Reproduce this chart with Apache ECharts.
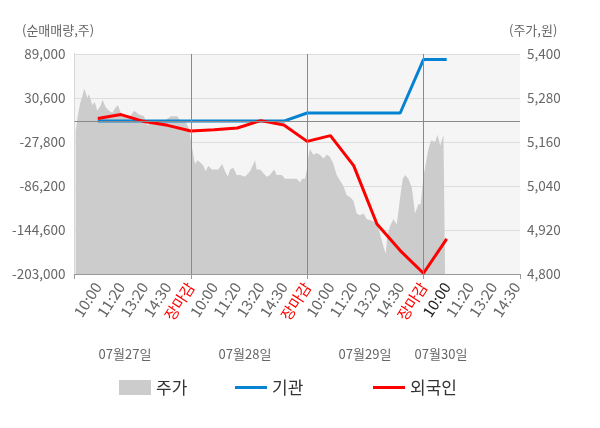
<!DOCTYPE html>
<html>
  <head>
    <meta charset="utf-8">
    <title></title>
    <style media="screen">
    html, body {margin:0; padding:0; background:#fff;}
    .box {width:600px; height:428px;}
    </style>
    <script src="https://cdn.jsdelivr.net/npm/echarts@6/dist/echarts.min.js" charset="utf-8"></script>
    <script>
    // x 단위: 슬롯 (하루 = 5칸, 장마감이 5의 배수)
    const tickLabels=['10:00','11:20','13:20','14:30','장마감',
                      '10:00','11:20','13:20','14:30','장마감',
                      '10:00','11:20','13:20','14:30','장마감',
                      '10:00','11:20','13:20','14:30'];
    const dayLabels=['07월27일','07월28일','07월29일','07월30일'];
    const lineSlots=[1,2,3,4,5,6,7,8,9,10,11,12,13,14,15,16];
    const instVals=[0,0,0,0,0,0,0,0,0,10700,10700,10700,10700,10700,81600,81600];
    const foreignVals=[3300,8600,-700,-5700,-13200,-11700,-9200,600,-5200,-27000,-19300,-59100,-136600,-171900,-202000,-156500];
    const priceTime=[0.05,0.15,0.24,0.34,0.41,0.48,0.55,0.62,0.70,0.77,0.87,0.98,1.13,1.20,1.34,1.48,1.63,1.77,1.87,1.99,
      2.13,2.34,2.56,2.77,2.99,3.13,3.28,3.49,3.71,3.92,4.14,4.28,4.42,4.57,4.78,4.93,
      5.00,5.04,5.11,5.18,5.28,5.40,5.54,5.64,5.75,5.90,6.18,6.35,6.47,6.59,6.69,6.83,6.97,7.12,7.33,7.55,7.76,7.83,7.98,
      8.12,8.26,8.40,8.58,8.69,8.91,9.05,9.34,9.55,9.69,9.79,9.91,
      10.00,10.05,10.12,10.27,10.41,10.55,10.70,10.84,10.98,11.13,11.27,11.41,11.56,11.70,11.84,11.99,12.13,12.27,12.42,
      12.56,12.78,12.99,13.13,13.28,13.38,13.45,13.56,13.71,13.85,13.99,14.11,14.21,14.35,14.50,14.64,14.78,14.88,
      15.00,15.11,15.21,15.33,15.50,15.60,15.72,15.86,15.93];
    const priceVals=[5190,5235,5265,5285,5305,5295,5280,5290,5275,5260,5270,5245,5260,5275,5255,5245,5240,5255,5260,5240,
      5230,5225,5245,5235,5230,5205,5215,5215,5220,5220,5230,5230,5230,5215,5215,5195,
      5165,5150,5125,5100,5110,5105,5095,5080,5095,5085,5085,5100,5080,5065,5085,5090,5070,5070,5065,5080,5110,5085,5085,
      5075,5065,5070,5085,5070,5070,5060,5060,5060,5050,5060,5060,
      5090,5120,5140,5125,5130,5125,5115,5125,5120,5100,5070,5055,5040,5015,5010,5000,4965,4960,4965,
      4950,4945,4940,4910,4875,4855,4905,4930,4950,4935,5005,5060,5070,5060,5035,4965,4990,4990,
      5065,5105,5140,5165,5160,5180,5150,5180,5175];

    const font='Noto Sans CJK KR';
    const fmt=v=>v.toLocaleString('en-US');

    window.onload=function (){
      let chart=echarts.init(document.querySelector('.box'));
      let legendText={fontSize: 17, color: '#333', fontFamily: font};
      let option={
        animation: false,
        textStyle: {fontFamily: font},
        grid: {left: 74.5, right: 80, top: 54, bottom: 154, show: true, backgroundColor: '#f5f5f5', borderWidth: 0},
        legend: [
          {data: ['주가'], left: 114, top: 374, icon: 'rect', itemWidth: 32, itemHeight: 15, textStyle: legendText},
          {data: ['기관'], left: 230, top: 374, icon: 'rect', itemWidth: 32, itemHeight: 3, textStyle: legendText},
          {data: ['외국인'], left: 368, top: 374, icon: 'rect', itemWidth: 32, itemHeight: 3, textStyle: legendText}
        ],
        xAxis: [
          {
            type: 'value', min: 0, max: 19.15, interval: 1,
            axisLine: {show: false},
            axisTick: {show: false},
            splitLine: {show: false},
            axisLabel: {
              rotate: 57, margin: 10, fontSize: 15, fontFamily: font,
              formatter: v=>(Number.isInteger(v) && v>0 && tickLabels[v-1]) ? tickLabels[v-1] : '',
              color: v=>{
                let s=tickLabels[v-1];
                if(s=='장마감') return '#ff0000';
                if(v==16) return '#222';
                return '#666';
              }
            }
          },
          {
            type: 'value', min: 0, max: 19.15, interval: 5, position: 'bottom',
            axisLine: {show: true, lineStyle: {color: '#999'}},
            axisTick: {show: true, length: 5, lineStyle: {color: '#999'}},
            axisLabel: {show: false},
            splitLine: {show: false}
          }
        ],
        yAxis: [
          {
            type: 'value', min: -203000, max: 89000, interval: 58400,
            axisLine: {show: true, lineStyle: {color: '#999'}},
            axisTick: {show: false},
            splitLine: {lineStyle: {color: '#dddddd'}},
            axisLabel: {fontSize: 13.5, color: '#666', margin: 9, formatter: fmt, fontFamily: font}
          },
          {
            type: 'value', min: 4800, max: 5400, interval: 120,
            axisLine: {show: true, lineStyle: {color: '#d8d8d8'}},
            axisTick: {show: false},
            splitLine: {show: false},
            axisLabel: {fontSize: 13.5, color: '#666', margin: 7, formatter: fmt, fontFamily: font}
          }
        ],
        graphic: [
          {type: 'text', left: 22, top: 24, style: {text: '(순매매량,주)', fontSize: 13, fill: '#666', fontFamily: font}},
          {type: 'text', left: 509, top: 24, style: {text: '(주가,원)', fontSize: 13, fill: '#666', fontFamily: font}},
          {type: 'text', x: 125, y: 354, style: {text: dayLabels[0], fontSize: 13, fill: '#666', align: 'center', verticalAlign: 'middle', fontFamily: font}},
          {type: 'text', x: 245, y: 354, style: {text: dayLabels[1], fontSize: 13, fill: '#666', align: 'center', verticalAlign: 'middle', fontFamily: font}},
          {type: 'text', x: 365, y: 354, style: {text: dayLabels[2], fontSize: 13, fill: '#666', align: 'center', verticalAlign: 'middle', fontFamily: font}},
          {type: 'text', x: 441, y: 354, style: {text: dayLabels[3], fontSize: 13, fill: '#666', align: 'center', verticalAlign: 'middle', fontFamily: font}}
        ],
        series: [
          {
            name: '주가', type: 'line', yAxisIndex: 1,
            data: priceTime.map((t,i)=>[t, priceVals[i]]),
            symbol: 'none', lineStyle: {width: 0},
            itemStyle: {color: '#cccccc'},
            areaStyle: {color: '#cccccc', opacity: 1, origin: 'start'}
          },
          {
            name: '기관', type: 'line',
            data: lineSlots.map((s,i)=>[s, instVals[i]]),
            symbol: 'none', lineStyle: {width: 3, color: '#0583d2'},
            itemStyle: {color: '#0583d2'},
            markLine: {
              silent: true, symbol: 'none', label: {show: false},
              lineStyle: {color: '#8a8a8a', width: 1, type: 'solid'},
              data: [{xAxis: 5}, {xAxis: 10}, {xAxis: 15}, {yAxis: 0}]
            }
          },
          {
            name: '외국인', type: 'line',
            data: lineSlots.map((s,i)=>[s, foreignVals[i]]),
            symbol: 'none', lineStyle: {width: 3, color: '#ff0000'},
            itemStyle: {color: '#ff0000'}
          }
        ]
      };
      chart.setOption(option);
    };
    </script>
  </head>
  <body>
    <div class="box"></div>
  </body>
</html>
